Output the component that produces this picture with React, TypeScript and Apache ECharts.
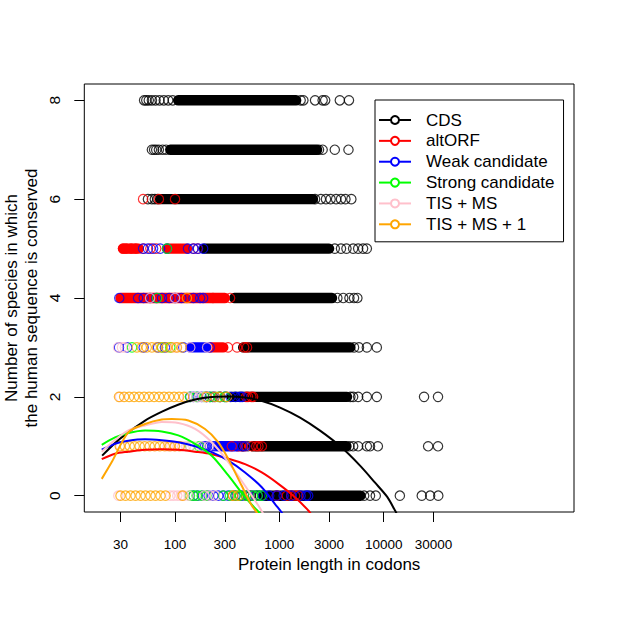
import React, { useEffect, useRef } from "react";
import * as echarts from "echarts";

// ---------- axis ticks ----------
const xTickLabels = [30, 100, 300, 1000, 3000, 10000, 30000];
const yTickLabels = [0, 2, 4, 6, 8];

// ---------- series meta ----------
const seriesNames = ["CDS", "altORF", "Weak candidate", "Strong candidate", "TIS + MS", "TIS + MS + 1"];
const seriesColors = ["#000000", "#FF0000", "#0000FF", "#00FF00", "#FFC0CB", "#FFA500"];

// ---------- dense runs of overlapping circles: [level, fromLength, toLength] ----------
const cdsBands = [
  [8, 107, 1450], [7, 90, 2300], [6, 72, 2100], [5, 190, 3000], [4, 370, 3200],
  [3, 450, 4800], [2, 350, 4460], [1, 560, 4400], [0, 700, 6000],
];
const altorfBands = [[5, 31.7, 45], [5, 84, 130], [4, 30, 300], [3, 217, 290], [1, 400, 440]];
const weakBands = [[3, 140, 200], [1, 260, 376]];
const strongBands: number[][] = [];
const tisBands: number[][] = [];
const tis1Bands: number[][] = [];

// ---------- individual circles: [level, lengths...] ----------
const cdsPoints: [number, number[]][] = [
  [8, [50.5, 53, 56, 60, 65, 71, 78, 86, 95, 1600, 1700, 2200, 2600, 2750, 3800, 4650]],
  [7, [60, 63, 66, 70, 76, 82, 2400, 2600, 3400, 4600]],
  [6, [55, 60, 64, 68, 2200, 2500, 2800, 3100, 3500, 3900, 4300, 4900]],
  [5, [3400, 3900, 4400, 5100, 5700, 6350, 6900]],
  [4, [3600, 4100, 4700, 5200, 5600]],
  [3, [5200, 5800, 6900, 8600]],
  [2, [200, 230, 270, 310, 4800, 5100, 5700, 6900, 8600, 24400, 33200]],
  [1, [450, 500, 4700, 5100, 5700, 6900, 7400, 8800, 26700, 33200]],
  [0, [530, 600, 650, 6500, 7400, 8400, 14300, 23200, 27900, 33400]],
];
const altorfPoints: [number, number[]][] = [
  [6, [49.4, 70, 100]],
  [5, [31.7, 34, 38, 42, 50, 58, 66, 150, 165]],
  [4, [231, 337]],
  [3, [322, 393, 460, 490]],
  [2, [480, 500, 540, 560]],
  [1, [350, 470, 545, 600, 630, 680]],
  [0, [360, 420, 480, 945, 1180, 1300, 1414, 1520]],
];
const weakPoints: [number, number[]][] = [
  [5, [49.4, 55, 61.6, 72, 83.8, 133, 150, 166, 186]],
  [4, [29.2, 44.2, 50, 57.6, 66, 75, 88, 100, 115, 150, 174, 186]],
  [3, [29, 34.7, 50, 68.7, 80, 120, 215]],
  [2, [140, 150, 165, 180, 200, 215, 240, 270, 300, 340, 380, 420, 440]],
  [1, [186, 194, 203, 215, 230, 242, 400, 440, 470]],
  [0, [150, 165, 185, 210, 233, 260, 290, 324, 380, 440, 500, 560, 620, 700, 800, 945, 1100, 1300, 1600, 1800, 1890]],
];
const strongPoints: [number, number[]][] = [
  [5, [83.8]],
  [4, [67.2]],
  [3, [38.7, 75, 90]],
  [2, [139, 160, 190, 217, 260, 300]],
  [1, [139, 170]],
  [0, [139, 150, 161, 180, 200, 290, 337, 380, 420, 480, 560, 620, 678]],
];
const tisPoints: [number, number[]][] = [
  [4, [57.6, 100]],
  [3, [28.4, 31, 33, 100, 104.5, 140, 203]],
  [2, [29.7, 130, 150, 170, 185, 200]],
  [1, [30, 85, 92, 100, 108, 117, 127, 138, 150, 180, 210]],
  [0, [28.6, 90, 97, 105, 113, 122, 135, 190, 215, 242]],
];
const tis1Points: [number, number[]][] = [
  [4, [130]],
  [3, [43, 48, 53.5, 60, 67, 75, 83.5, 93, 104, 116]],
  [2, [29, 32.5, 36.3, 40.5, 45.2, 50.5, 56.4, 63, 70.3, 78.5, 87.7, 98, 109.4, 122, 200, 242, 270, 315]],
  [1, [29.5, 33, 36.8, 41, 45.8, 51.2, 57.2, 63.9, 71.4, 79.7, 89, 99.4, 111]],
  [0, [30, 33.5, 37.4, 41.8, 46.7, 52.1, 58.2, 65, 72.6, 81.1, 118, 360, 400]],
];

// ---------- fitted curves: [length, value] ----------
const cdsCurve = [
  [20, 0.81], [29.7, 1.155], [51.6, 1.52], [75, 1.7], [107, 1.84], [155.5, 1.945], [226, 1.996],
  [322, 2.006], [469, 1.986], [683, 1.915], [1016, 1.783], [1580, 1.58], [2456, 1.317],
  [3819, 1.003], [5937, 0.608], [8275, 0.263], [10780, -0.02], [12860, -0.3], [13600, -0.4],
];
const altorfCurve = [
  [19.83, 0.74], [26.59, 0.85], [35.67, 0.89], [51.56, 0.93], [74.57, 0.94], [107.5, 0.93],
  [155.5, 0.89], [224.8, 0.84], [324.3, 0.75], [469, 0.64], [678.3, 0.47], [978.1, 0.24],
  [1414, -0.03], [1897, -0.3], [2050, -0.4],
];
const weakCurve = [
  [19.83, 0.93], [26.59, 1.05], [35.67, 1.11], [51.56, 1.14], [74.57, 1.12], [107.5, 1.08],
  [155.5, 1.0], [224.8, 0.88], [324.3, 0.71], [469, 0.47], [678.3, 0.17], [909.6, -0.17],
  [1054, -0.34], [1120, -0.42],
];
const strongCurve = [
  [19.83, 1.03], [26.59, 1.18], [35.67, 1.27], [51.56, 1.32], [74.57, 1.3], [107.5, 1.22],
  [155.5, 1.05], [224.8, 0.81], [324.3, 0.41], [469, -0.03], [640, -0.34], [690, -0.42],
];
const tisCurve = [
  [19.83, 0.89], [24.73, 1.07], [35.67, 1.32], [51.56, 1.42], [74.57, 1.49], [107.5, 1.47],
  [155.5, 1.35], [224.8, 1.08], [324.3, 0.68], [469, 0.2], [629.2, -0.2], [690, -0.34], [720, -0.42],
];
const tis1Curve = [
  [19.83, 0.34], [24.73, 0.68], [35.67, 1.28], [51.56, 1.45], [74.57, 1.54], [92.98, 1.55],
  [134.1, 1.52], [193.9, 1.35], [260.1, 1.08], [324.3, 0.74], [436.1, 0.2], [543.7, -0.2],
  [607.3, -0.34], [640, -0.45],
];

const allBands = [cdsBands, altorfBands, weakBands, strongBands, tisBands, tis1Bands];
const allPoints = [cdsPoints, altorfPoints, weakPoints, strongPoints, tisPoints, tis1Points];
const allCurves = [cdsCurve, altorfCurve, weakCurve, strongCurve, tisCurve, tis1Curve];

const FONT = "'Liberation Sans', Arial, Helvetica, sans-serif";

export default function App() {
  const ref = useRef<HTMLDivElement>(null);

  useEffect(() => {
    if (!ref.current) return;
    const chart = echarts.init(ref.current, undefined, { renderer: "svg" });
    const series: any[] = [];

    seriesNames.forEach((name, i) => {
      const color = seriesColors[i];
      const bands = allBands[i];
      if (bands.length) {
        series.push({
          type: "custom",
          name: name + " (dense)",
          silent: true,
          clip: true,
          encode: { x: [0, 1], y: 2 },
          data: bands.map(([lvl, f, t]) => [Math.log10(f), Math.log10(t), lvl]),
          renderItem: (_p: any, api: any) => {
            const a = api.coord([api.value(0), api.value(2)]);
            const b = api.coord([api.value(1), api.value(2)]);
            return {
              type: "rect",
              shape: { x: a[0] - 5.2, y: a[1] - 5.2, width: b[0] - a[0] + 10.4, height: 10.4, r: 5.2 },
              style: { fill: color },
            };
          },
        });
      }
      const pts: number[][] = [];
      allPoints[i].forEach(([lvl, lens]) => lens.forEach((l) => pts.push([Math.log10(l), lvl])));
      series.push({
        type: "scatter",
        name: name + " (points)",
        silent: true,
        symbol: "circle",
        symbolSize: 9.4,
        itemStyle: { color: "rgba(0,0,0,0)", borderColor: color, borderWidth: 1.2 },
        data: pts,
      });
    });

    seriesNames.forEach((name, i) => {
      series.push({
        type: "line",
        name,
        silent: true,
        smooth: 0.3,
        showSymbol: false,
        symbol: "emptyCircle",
        clip: true,
        lineStyle: { color: seriesColors[i], width: 2 },
        itemStyle: { color: seriesColors[i] },
        data: allCurves[i].map(([l, v]) => [Math.log10(l), v]),
      });
    });

    const xTickVals = xTickLabels.map((v) => Math.log10(v));

    chart.setOption({
      animation: false,
      backgroundColor: "#ffffff",
      textStyle: { fontFamily: FONT },
      grid: {
        left: 84.3, right: 43, top: 84, bottom: 105,
        show: true, borderColor: "#000", borderWidth: 1, backgroundColor: "transparent",
      },
      xAxis: {
        type: "value",
        min: 1.13,
        max: 5.825,
        axisLine: { show: false, onZero: false },
        splitLine: { show: false },
        axisTick: { show: true, length: 10, customValues: xTickVals, lineStyle: { color: "#000", width: 1 } },
        axisLabel: {
          customValues: xTickVals,
          formatter: (v: number) => String(Math.round(Math.pow(10, v))),
          margin: 25,
          fontSize: 13.5,
          color: "#000",
          fontFamily: FONT,
        },
        name: "Protein length in codons",
        nameLocation: "middle",
        nameGap: 41,
        nameTextStyle: { fontSize: 17, color: "#000", fontFamily: FONT },
      },
      yAxis: {
        type: "value",
        min: -0.33,
        max: 8.33,
        axisLine: { show: false, onZero: false },
        splitLine: { show: false },
        axisTick: { show: true, length: 10, customValues: yTickLabels, lineStyle: { color: "#000", width: 1 } },
        axisLabel: { show: false },
      },
      legend: {
        data: seriesNames,
        orient: "vertical",
        left: 375,
        top: 100,
        selectedMode: false,
        backgroundColor: "#fff",
        borderColor: "#000",
        borderWidth: 1,
        borderRadius: 0,
        padding: [11.5, 9, 9, 3],
        itemWidth: 32,
        itemHeight: 10,
        itemGap: 3.86,
        textStyle: { fontSize: 17, lineHeight: 17, color: "#000", fontFamily: FONT, padding: [0, 0, 0, 10] },
      },
      series,
    });

    // y tick labels, rotated as in base R, placed through the y axis scale
    const yLabelGraphics = yTickLabels.map((v) => {
      const py = chart.convertToPixel({ yAxisIndex: 0 }, v) as number;
      return {
        type: "text",
        x: 54,
        y: py,
        rotation: Math.PI / 2,
        silent: true,
        style: { text: String(v), fontSize: 15.5, fontFamily: FONT, fill: "#000", textAlign: "center", textVerticalAlign: "middle" },
      };
    });

    chart.setOption({
      graphic: [
        {
          type: "text", x: 11.6, y: 298, rotation: Math.PI / 2, silent: true,
          style: { text: "Number of species in which", fontSize: 17, fontFamily: FONT, fill: "#000", textAlign: "center", textVerticalAlign: "middle" },
        },
        {
          type: "text", x: 31.6, y: 298, rotation: Math.PI / 2, silent: true,
          style: { text: "the human sequence is conserved", fontSize: 17, fontFamily: FONT, fill: "#000", textAlign: "center", textVerticalAlign: "middle" },
        },
        ...yLabelGraphics,
      ],
    });
    return () => chart.dispose();
  }, []);

  return <div ref={ref} style={{ position: "fixed", left: 0, top: 0, width: 617, height: 617 }} />;
}
